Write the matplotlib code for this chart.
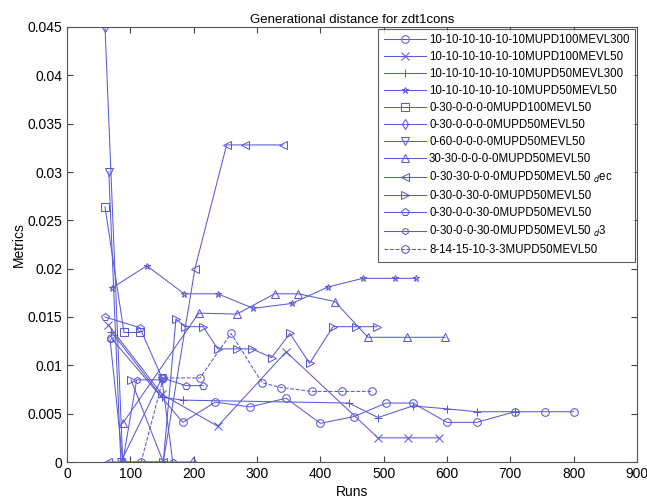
import matplotlib
matplotlib.use("Agg")
import matplotlib.pyplot as plt

labels = [
    "10-10-10-10-10-10MUPD100MEVL300",
    "10-10-10-10-10-10MUPD100MEVL50",
    "10-10-10-10-10-10MUPD50MEVL300",
    "10-10-10-10-10-10MUPD50MEVL50",
    "0-30-0-0-0-0MUPD100MEVL50",
    "0-30-0-0-0-0MUPD50MEVL50",
    "0-60-0-0-0-0MUPD50MEVL50",
    "30-30-0-0-0-0MUPD50MEVL50",
    "0-30-30-0-0-0MUPD50MEVL50 $_d$ec",
    "0-30-0-30-0-0MUPD50MEVL50",
    "0-30-0-0-30-0MUPD50MEVL50",
    "0-30-0-0-30-0MUPD50MEVL50 $_d$3",
    "8-14-15-10-3-3MUPD50MEVL50",
]

runs_1 = [70, 183, 234, 289, 346, 400, 453, 504, 546, 600, 647, 707, 755, 800]
vals_1 = [0.0128, 0.0041, 0.0062, 0.0057, 0.0066, 0.0040, 0.0047, 0.0061, 0.0061, 0.0041, 0.0041, 0.0052, 0.0052, 0.0052]
runs_2 = [65, 150, 238, 346, 491, 538, 587]
vals_2 = [0.0142, 0.0070, 0.0037, 0.0114, 0.0025, 0.0025, 0.0025]
runs_3 = [70, 150, 183, 445, 491, 546, 600, 647, 707]
vals_3 = [0.0135, 0.0067, 0.0064, 0.0061, 0.0046, 0.0058, 0.0055, 0.0052, 0.0052]
runs_4 = [71, 126, 185, 238, 294, 355, 412, 467, 518, 551]
vals_4 = [0.0180, 0.0203, 0.0174, 0.0174, 0.0159, 0.0164, 0.0181, 0.0190, 0.0190, 0.0190]
runs_5 = [60, 90, 115]
vals_5 = [0.0264, 0.0134, 0.0134]
runs_6 = [60, 88, 199]
vals_6 = [0.0450, 0.0, 0.0]
runs_7 = [66, 85, 150]
vals_7 = [0.0300, 0.0, 0.0087]
runs_8 = [88, 208, 268, 328, 365, 423, 475, 537, 597]
vals_8 = [0.0040, 0.0154, 0.0153, 0.0174, 0.0174, 0.0166, 0.0129, 0.0129, 0.0129]
runs_9 = [65, 152, 202, 252, 281, 341]
vals_9 = [0.0, 0.0, 0.0200, 0.0328, 0.0328, 0.0328]
runs_10 = [101, 152, 172, 186, 215, 238, 268, 292, 323, 352, 383, 420, 456, 489]
vals_10 = [0.0085, 0.0, 0.0148, 0.0140, 0.0140, 0.0117, 0.0117, 0.0117, 0.0108, 0.0133, 0.0102, 0.0140, 0.0140, 0.0140]
runs_11 = [60, 115, 150, 188, 215]
vals_11 = [0.0150, 0.0139, 0.0087, 0.0079, 0.0079]
runs_12 = [68, 88, 110, 150, 167]
vals_12 = [0.0127, 0.0, 0.0085, 0.0085, 0.0]
runs_13 = [117, 152, 210, 259, 308, 338, 387, 434, 482]
vals_13 = [0.0, 0.0087, 0.0087, 0.0133, 0.0082, 0.0077, 0.0073, 0.0073, 0.0073]

series_x = [runs_1, runs_2, runs_3, runs_4, runs_5, runs_6, runs_7, runs_8, runs_9, runs_10, runs_11, runs_12, runs_13]
series_y = [vals_1, vals_2, vals_3, vals_4, vals_5, vals_6, vals_7, vals_8, vals_9, vals_10, vals_11, vals_12, vals_13]
markers = ['o', 'x', '+', '*', 's', 'd', 'v', '^', '<', '>', 'p', 'h', 'o']
styles = ['-'] * 12 + ['--']

x_ticks = [0, 100, 200, 300, 400, 500, 600, 700, 800, 900]
y_ticks = [0, 0.005, 0.01, 0.015, 0.02, 0.025, 0.03, 0.035, 0.04, 0.045]
y_ticklabels = ["0", "0.005", "0.01", "0.015", "0.02", "0.025", "0.03", "0.035", "0.04", "0.045"]

plt.rcParams['font.family'] = ['Liberation Sans', 'DejaVu Sans']
color = '#5a5ad8'

fig = plt.figure(figsize=(6.47, 5.03), dpi=100)
ax = fig.add_axes([67/647, 41/503, 570/647, 435/503])

for xs, ys, m, ls, lab in zip(series_x, series_y, markers, styles, labels):
    ms = 5.5
    if m in ('*', 'h'):
        ms = 4.5
    ax.plot(xs, ys, linestyle=ls, marker=m, color=color, lw=0.75,
            markersize=ms, markerfacecolor='none', markeredgewidth=0.75, label=lab)

ax.set_xlim(0, 900)
ax.set_ylim(0, 0.045)
ax.set_xticks(x_ticks)
ax.set_yticks(y_ticks)
ax.set_yticklabels(y_ticklabels)
ax.tick_params(direction='in', top=True, right=True, labelsize=10, length=4, color='#444444')
for sp in ax.spines.values():
    sp.set_color('#555555')
    sp.set_linewidth(0.8)

ax.set_title("Generational distance for zdt1cons", fontsize=9.5, pad=3)
ax.set_xlabel("Runs", fontsize=10, labelpad=3)
ax.set_ylabel("Metrics", fontsize=10, labelpad=1)

leg = ax.legend(loc='upper right', fontsize=8.3, frameon=True, fancybox=False,
                edgecolor='#333333', handlelength=3.6, handletextpad=0.3,
                labelspacing=0.43, borderaxespad=0.15, borderpad=0.5)
leg.get_frame().set_linewidth(0.8)

fig.savefig("out.png", dpi=100)
